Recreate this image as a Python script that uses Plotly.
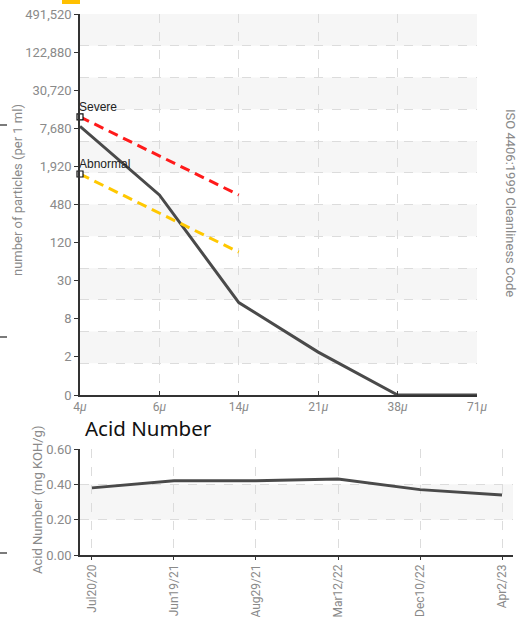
import plotly.graph_objects as go

# ---------------- data ----------------
sizes = ["4μ", "6μ", "14μ", "21μ", "38μ", "71μ"]
iso_codes = [20.1, 16.5, 10.85, 8.25, 6.0, 6.0]
limit_sizes = ["4μ", "6μ", "14μ"]
severe = [20.6, 18.55, 16.5]
abnormal = [17.6, 15.55, 13.5]
iso_ticks = [6, 8, 10, 12, 14, 16, 18, 20, 22, 24, 26]
count_labels = ["0", "2", "8", "30", "120", "480", "1,920", "7,680",
                "30,720", "122,880", "491,520"]

dates = ["Jul20/20", "Jun19/21", "Aug29/21", "Mar12/22", "Dec10/22", "Apr2/23"]
acid = [0.38, 0.42, 0.42, 0.43, 0.37, 0.34]
acid_ticks = [0.0, 0.2, 0.4, 0.6]

# ---------------- style ----------------
W, H = 523, 617
COND = "Roboto, Liberation Sans Narrow, sans-serif"
GREY = "#8a8a8a"
AX = "#333333"
GRID = "#dcdcdc"
BAND = "#f6f6f6"

def px_x(p):
    return p / W

def px_y(p):
    return 1 - p / H

fig = go.Figure()

# particle count line
fig.add_trace(go.Scatter(x=sizes, y=iso_codes, mode="lines",
                         line=dict(color="#4a4a4a", width=3),
                         xaxis="x", yaxis="y", showlegend=False))
# limits
fig.add_trace(go.Scatter(x=limit_sizes, y=severe, mode="lines",
                         line=dict(color="#ff1a1a", width=3, dash="10px,6px"),
                         xaxis="x", yaxis="y", showlegend=False))
fig.add_trace(go.Scatter(x=limit_sizes, y=abnormal, mode="lines",
                         line=dict(color="#ffc800", width=3, dash="10px,6px"),
                         xaxis="x", yaxis="y", showlegend=False))
fig.add_trace(go.Scatter(x=[limit_sizes[0], limit_sizes[0]], y=[severe[0], abnormal[0]],
                         mode="markers",
                         marker=dict(symbol="square", size=6, color="white",
                                     line=dict(color="#111", width=1.2)),
                         xaxis="x", yaxis="y", showlegend=False, cliponaxis=False))

# acid number
fig.add_trace(go.Scatter(x=dates, y=acid, mode="lines",
                         line=dict(color="#4a4a4a", width=3),
                         xaxis="x2", yaxis="y4", showlegend=False))

tickfont = dict(family=COND, size=13, color=GREY)
size_ticktext = [s.replace("μ", "<i>μ</i>") for s in sizes]

fig.update_layout(
    width=W, height=H,
    margin=dict(l=0, r=0, t=0, b=0),
    paper_bgcolor="white", plot_bgcolor="rgba(0,0,0,0)",
    font=dict(family=COND, color=GREY),
    xaxis=dict(domain=[px_x(80), px_x(477)], type="category",
               categoryorder="array", categoryarray=sizes,
               tickvals=sizes, ticktext=size_ticktext,
               range=[0, 5], anchor="y",
               showline=True, linecolor=AX, linewidth=1.5,
               ticks="inside", ticklen=4, tickcolor=AX,
               showgrid=True, gridcolor=GRID, griddash="dash", gridwidth=1,
               tickfont=dict(family=COND, size=12, color=GREY),
               zeroline=False, automargin=False, fixedrange=True),
    yaxis=dict(domain=[px_y(395), px_y(14)], range=[6, 26], anchor="x",
               tickvals=iso_ticks, ticktext=count_labels,
               showline=True, linecolor=AX, linewidth=1.5,
               ticks="outside", ticklen=4, tickcolor=AX,
               showgrid=False, zeroline=False,
               tickfont=tickfont, automargin=False),
    yaxis2=dict(range=[6, 26], overlaying="y", side="right", anchor="x",
                tickvals=iso_ticks,
                showline=True, linecolor=AX, linewidth=1.5,
                ticks="outside", ticklen=4, tickcolor=AX,
                showgrid=False, zeroline=False,
                tickfont=tickfont, automargin=False),
    yaxis3=dict(range=[0, 12], overlaying="y", anchor="x", dtick=1,
                showgrid=True, gridcolor=GRID, griddash="dash", gridwidth=1,
                showticklabels=False, ticks="", showline=False,
                zeroline=False, automargin=False),
    xaxis2=dict(domain=[px_x(80), px_x(513)], type="category",
                categoryorder="array", categoryarray=dates,
                range=[-0.146, 5.134], anchor="y4",
                showline=True, linecolor=AX, linewidth=1.5,
                ticks="outside", ticklen=3, tickcolor=AX,
                tickangle=-90,
                showgrid=True, gridcolor=GRID, griddash="dash", gridwidth=1,
                tickfont=dict(family=COND, size=12, color=GREY),
                zeroline=False, automargin=False),
    yaxis4=dict(domain=[px_y(555), px_y(449)], range=[0, 0.6], anchor="x2",
                tickvals=acid_ticks, tickformat=".2f",
                showline=True, linecolor=AX, linewidth=1.5,
                ticks="outside", ticklen=4, tickcolor=AX,
                showgrid=True, gridcolor=GRID, griddash="dash", gridwidth=1,
                zeroline=False, tickfont=tickfont, automargin=False),
)

# background bands (top chart, alternating between grid lines)
shapes = []
for k in range(1, 12, 2):
    shapes.append(dict(type="rect", xref="x domain", yref="y3",
                       x0=0, x1=1, y0=k, y1=k + 1,
                       fillcolor=BAND, line=dict(width=0), layer="below"))
# band in acid chart
shapes.append(dict(type="rect", xref="x2 domain", yref="y4",
                   x0=0, x1=1, y0=acid_ticks[1], y1=acid_ticks[2],
                   fillcolor=BAND, line=dict(width=0), layer="below"))
# clipped legend swatch at top
shapes.append(dict(type="rect", xref="paper", yref="paper",
                   x0=px_x(62), x1=px_x(80), y0=px_y(4), y1=px_y(0),
                   fillcolor="#ffc000", line=dict(width=0)))
# small marks at the left page edge
for yy in (125, 337, 553):
    shapes.append(dict(type="line", xref="paper", yref="paper",
                       x0=0, x1=px_x(7), y0=px_y(yy), y1=px_y(yy),
                       line=dict(color="#222", width=1.2)))
fig.update_layout(shapes=shapes)

annotations = [
    dict(x=0, y=severe[0], xref="x", yref="y", text="Severe",
         showarrow=False, xanchor="left", yanchor="bottom",
         xshift=-3, yshift=1, font=dict(family="Liberation Sans, Arial, sans-serif",
                                       size=12, color="#222")),
    dict(x=0, y=abnormal[0], xref="x", yref="y", text="Abnormal",
         showarrow=False, xanchor="left", yanchor="bottom",
         xshift=-3, yshift=1, font=dict(family="Liberation Sans, Arial, sans-serif",
                                       size=12, color="#222")),
    dict(x=px_x(18), y=px_y(190), xref="paper", yref="paper",
         text="number of particles (per 1 ml)", textangle=-90,
         showarrow=False, xanchor="center", yanchor="middle",
         font=dict(family=COND, size=13, color=GREY)),
    dict(x=px_x(510), y=px_y(203), xref="paper", yref="paper",
         text="ISO 4406:1999 Cleanliness Code", textangle=90,
         showarrow=False, xanchor="center", yanchor="middle",
         font=dict(family=COND, size=13, color=GREY)),
    dict(x=px_x(37), y=px_y(500), xref="paper", yref="paper",
         text="Acid Number (mg KOH/g)", textangle=-90,
         showarrow=False, xanchor="center", yanchor="middle",
         font=dict(family=COND, size=13, color=GREY)),
    dict(x=px_x(84), y=px_y(428), xref="paper", yref="paper",
         text="Acid Number", showarrow=False,
         xanchor="left", yanchor="middle", borderpad=0,
         font=dict(family="Noto Sans, Open Sans, sans-serif", size=20.5, color="#111")),
]
fig.update_layout(annotations=annotations)

fig.write_html("out.html",
               config={"displayModeBar": False},
               post_script="document.body.style.margin='0';document.body.style.overflow='hidden';")
